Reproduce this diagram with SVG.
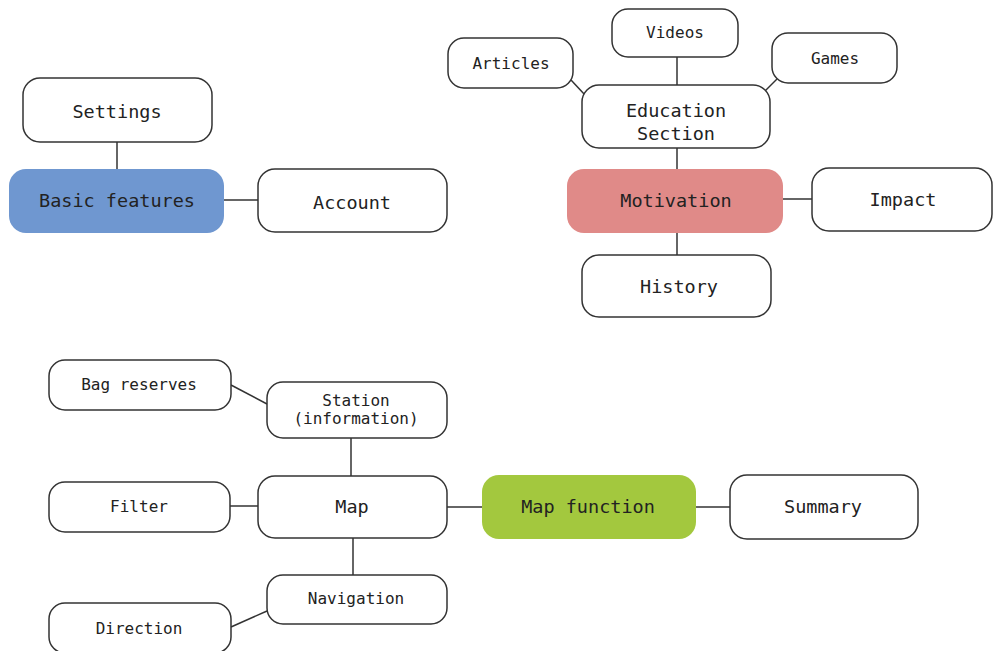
<svg xmlns="http://www.w3.org/2000/svg" width="993" height="651" viewBox="0 0 993 651">
  <style>
    .box { fill: #ffffff; stroke: #333333; stroke-width: 1.5; }
    .hub { stroke: none; }
    .link { stroke: #333333; stroke-width: 1.5; fill: none; }
    text { font-family: "DejaVu Sans Mono", "Liberation Mono", monospace; fill: #222222; text-anchor: middle; dominant-baseline: central; }
    .lg { font-size: 18.5px; }
    .sm { font-size: 16px; }
  </style>
  <rect width="993" height="651" fill="#ffffff"/>

  <!-- connectors -->
  <g id="connectors">
    <line class="link" x1="117" y1="142" x2="117" y2="169"/>
    <line class="link" x1="224" y1="200" x2="258" y2="200"/>
    <line class="link" x1="677" y1="57" x2="677" y2="85"/>
    <line class="link" x1="571" y1="80" x2="585" y2="95"/>
    <line class="link" x1="777" y1="79" x2="765" y2="91"/>
    <line class="link" x1="677" y1="148" x2="677" y2="169"/>
    <line class="link" x1="783" y1="199" x2="812" y2="199"/>
    <line class="link" x1="677" y1="233" x2="677" y2="255"/>
    <line class="link" x1="231" y1="385" x2="267" y2="404"/>
    <line class="link" x1="351" y1="438" x2="351" y2="476"/>
    <line class="link" x1="230" y1="506" x2="258" y2="506"/>
    <line class="link" x1="447" y1="507" x2="482" y2="507"/>
    <line class="link" x1="696" y1="507" x2="730" y2="507"/>
    <line class="link" x1="353" y1="538" x2="353" y2="575"/>
    <line class="link" x1="267" y1="611" x2="231" y2="627"/>
  </g>

  <!-- basic features cluster -->
  <g id="settings">
    <rect class="box" x="23" y="78" width="189" height="64" rx="17"/>
    <text class="lg" x="117" y="111">Settings</text>
  </g>
  <g id="basic-features">
    <rect class="hub" x="9" y="169" width="215" height="64" rx="17" fill="#6f97d0"/>
    <text class="lg" x="117" y="200">Basic features</text>
  </g>
  <g id="account">
    <rect class="box" x="258" y="169" width="189" height="63" rx="17"/>
    <text class="lg" x="352" y="202">Account</text>
  </g>

  <!-- motivation cluster -->
  <g id="videos">
    <rect class="box" x="612" y="9" width="126" height="48" rx="16"/>
    <text class="sm" x="675" y="32">Videos</text>
  </g>
  <g id="articles">
    <rect class="box" x="448" y="38" width="125" height="50" rx="16"/>
    <text class="sm" x="511" y="63">Articles</text>
  </g>
  <g id="games">
    <rect class="box" x="772" y="33" width="125" height="50" rx="16"/>
    <text class="sm" x="835" y="58">Games</text>
  </g>
  <g id="education-section">
    <rect class="box" x="582" y="85" width="188" height="63" rx="17"/>
    <text class="lg" x="676" y="110">Education</text>
    <text class="lg" x="676" y="133">Section</text>
  </g>
  <g id="motivation">
    <rect class="hub" x="567" y="169" width="216" height="64" rx="17" fill="#e08a88"/>
    <text class="lg" x="676" y="200">Motivation</text>
  </g>
  <g id="impact">
    <rect class="box" x="812" y="168" width="180" height="63" rx="17"/>
    <text class="lg" x="903" y="199">Impact</text>
  </g>
  <g id="history">
    <rect class="box" x="582" y="255" width="189" height="62" rx="17"/>
    <text class="lg" x="679" y="286">History</text>
  </g>

  <!-- map function cluster -->
  <g id="bag-reserves">
    <rect class="box" x="49" y="360" width="182" height="50" rx="16"/>
    <text class="sm" x="139" y="384">Bag reserves</text>
  </g>
  <g id="station">
    <rect class="box" x="267" y="382" width="180" height="56" rx="16"/>
    <text class="sm" x="356" y="400">Station</text>
    <text class="sm" x="356" y="418">(information)</text>
  </g>
  <g id="filter">
    <rect class="box" x="49" y="482" width="181" height="50" rx="16"/>
    <text class="sm" x="139" y="506">Filter</text>
  </g>
  <g id="map">
    <rect class="box" x="258" y="476" width="189" height="62" rx="17"/>
    <text class="lg" x="352" y="506">Map</text>
  </g>
  <g id="map-function">
    <rect class="hub" x="482" y="475" width="214" height="64" rx="17" fill="#a3c83e"/>
    <text class="lg" x="588" y="506">Map function</text>
  </g>
  <g id="summary">
    <rect class="box" x="730" y="475" width="188" height="64" rx="17"/>
    <text class="lg" x="823" y="506">Summary</text>
  </g>
  <g id="navigation">
    <rect class="box" x="267" y="575" width="180" height="49" rx="16"/>
    <text class="sm" x="356" y="598">Navigation</text>
  </g>
  <g id="direction">
    <rect class="box" x="49" y="603" width="182" height="50" rx="16"/>
    <text class="sm" x="139" y="628">Direction</text>
  </g>
</svg>
